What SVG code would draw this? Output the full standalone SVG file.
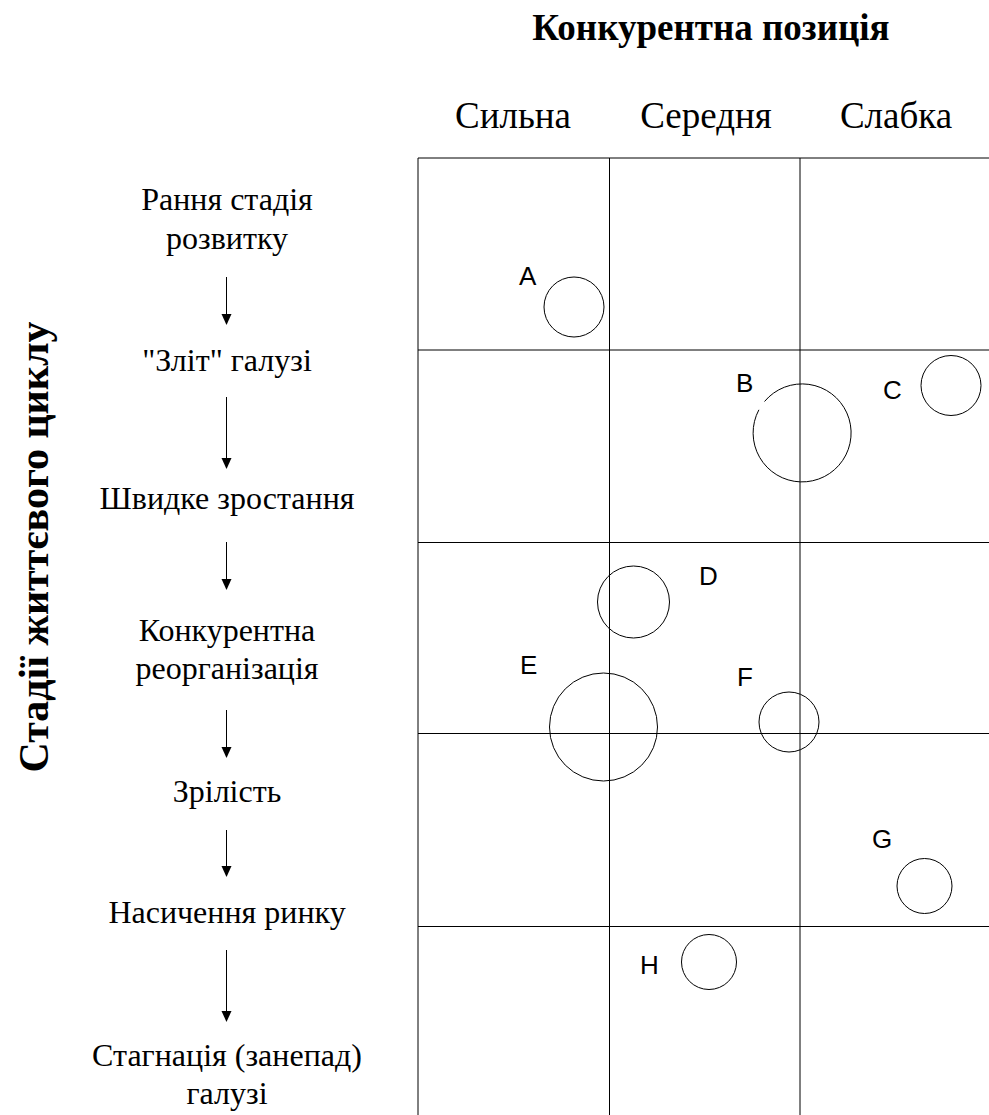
<svg xmlns="http://www.w3.org/2000/svg" width="989" height="1115" viewBox="0 0 989 1115">
  <style>
    .title { font-family: "Liberation Serif", "Times New Roman", serif; font-weight: bold; font-size: 37px; fill: #000; }
    .head { font-family: "Liberation Serif", "Times New Roman", serif; font-size: 37px; fill: #000; }
    .stage { font-family: "Liberation Serif", "Times New Roman", serif; font-size: 32px; fill: #000; }
    .axis { font-family: "Liberation Serif", "Times New Roman", serif; font-weight: bold; font-size: 42px; fill: #000; }
    .grid { stroke: #000; stroke-width: 1; fill: none; }
    .bubble { stroke: #000; stroke-width: 1; fill: none; }
    .letter { font-family: "Liberation Sans", Arial, sans-serif; font-size: 26px; fill: #000; }
    .flow { stroke: #000; stroke-width: 1; fill: none; }
    .head-tip { fill: #000; stroke: none; }
  </style>
  <rect width="989" height="1115" fill="#fff"/>

  <!-- headings -->
  <text class="title" x="711" y="40" text-anchor="middle">Конкурентна позиція</text>
  <text class="head" x="513" y="128" text-anchor="middle">Сильна</text>
  <text class="head" x="706" y="128" text-anchor="middle">Середня</text>
  <text class="head" x="896" y="128" text-anchor="middle">Слабка</text>
  <text class="axis" x="48" y="547" text-anchor="middle" transform="rotate(-90 48 547)">Стадії життєвого циклу</text>

  <!-- matrix grid -->
  <g id="grid" class="grid">
    <line x1="418" y1="158" x2="989" y2="158"/>
    <line x1="418" y1="158" x2="418" y2="1115"/>
    <line x1="609.5" y1="158" x2="609.5" y2="1115"/>
    <line x1="800" y1="158" x2="800" y2="1115"/>
    <line x1="418" y1="350" x2="989" y2="350"/>
    <line x1="418" y1="542.5" x2="989" y2="542.5"/>
    <line x1="418" y1="733.5" x2="989" y2="733.5"/>
    <line x1="418" y1="926.5" x2="989" y2="926.5"/>
  </g>

  <!-- life-cycle stages -->
  <g id="stage-early"><text class="stage" text-anchor="middle" x="227" y="210">Рання стадія</text><text class="stage" text-anchor="middle" x="227" y="249">розвитку</text></g>
  <g id="stage-shakeout"><text class="stage" text-anchor="middle" x="227" y="371">"Зліт" галузі</text></g>
  <g id="stage-growth"><text class="stage" text-anchor="middle" x="227" y="509">Швидке зростання</text></g>
  <g id="stage-reorg"><text class="stage" text-anchor="middle" x="227" y="641">Конкурентна</text><text class="stage" text-anchor="middle" x="227" y="679">реорганізація</text></g>
  <g id="stage-maturity"><text class="stage" text-anchor="middle" x="227" y="802">Зрілість</text></g>
  <g id="stage-saturation"><text class="stage" text-anchor="middle" x="227" y="923">Насичення ринку</text></g>
  <g id="stage-decline"><text class="stage" text-anchor="middle" x="227" y="1066">Стагнація (занепад)</text><text class="stage" text-anchor="middle" x="227" y="1104">галузі</text></g>

  <!-- stage transitions -->
  <g id="connectors">
    <line class="flow" x1="226.5" y1="277" x2="226.5" y2="315"/><path class="head-tip" d="M221.5,314 L231.5,314 L226.5,325 Z"/>
    <line class="flow" x1="226.5" y1="397" x2="226.5" y2="459"/><path class="head-tip" d="M221.5,458 L231.5,458 L226.5,469 Z"/>
    <line class="flow" x1="226.5" y1="542" x2="226.5" y2="580"/><path class="head-tip" d="M221.5,579 L231.5,579 L226.5,590 Z"/>
    <line class="flow" x1="226.5" y1="710" x2="226.5" y2="748"/><path class="head-tip" d="M221.5,747 L231.5,747 L226.5,758 Z"/>
    <line class="flow" x1="226.5" y1="830" x2="226.5" y2="867"/><path class="head-tip" d="M221.5,866 L231.5,866 L226.5,877 Z"/>
    <line class="flow" x1="226.5" y1="950" x2="226.5" y2="1012"/><path class="head-tip" d="M221.5,1011 L231.5,1011 L226.5,1022 Z"/>
  </g>

  <!-- business units -->
  <g id="unit-A"><circle class="bubble" cx="574" cy="307" r="30"/><text class="letter" x="519" y="285">A</text></g>
  <g id="unit-B"><path class="bubble" d="M764.5,401.5 A49,49 0 1 1 758.9,409.8"/><text class="letter" x="736" y="392">B</text></g>
  <g id="unit-C"><circle class="bubble" cx="951" cy="385.5" r="30"/><text class="letter" x="883" y="399">C</text></g>
  <g id="unit-D"><circle class="bubble" cx="633.5" cy="602" r="36"/><text class="letter" x="699" y="585">D</text></g>
  <g id="unit-E"><circle class="bubble" cx="603.5" cy="727" r="54"/><text class="letter" x="520" y="674">E</text></g>
  <g id="unit-F"><circle class="bubble" cx="789" cy="722" r="30"/><text class="letter" x="737" y="686">F</text></g>
  <g id="unit-G"><circle class="bubble" cx="924.5" cy="886" r="27.5"/><text class="letter" x="872" y="848">G</text></g>
  <g id="unit-H"><circle class="bubble" cx="709" cy="962" r="27.5"/><text class="letter" x="640" y="974">H</text></g>
</svg>
